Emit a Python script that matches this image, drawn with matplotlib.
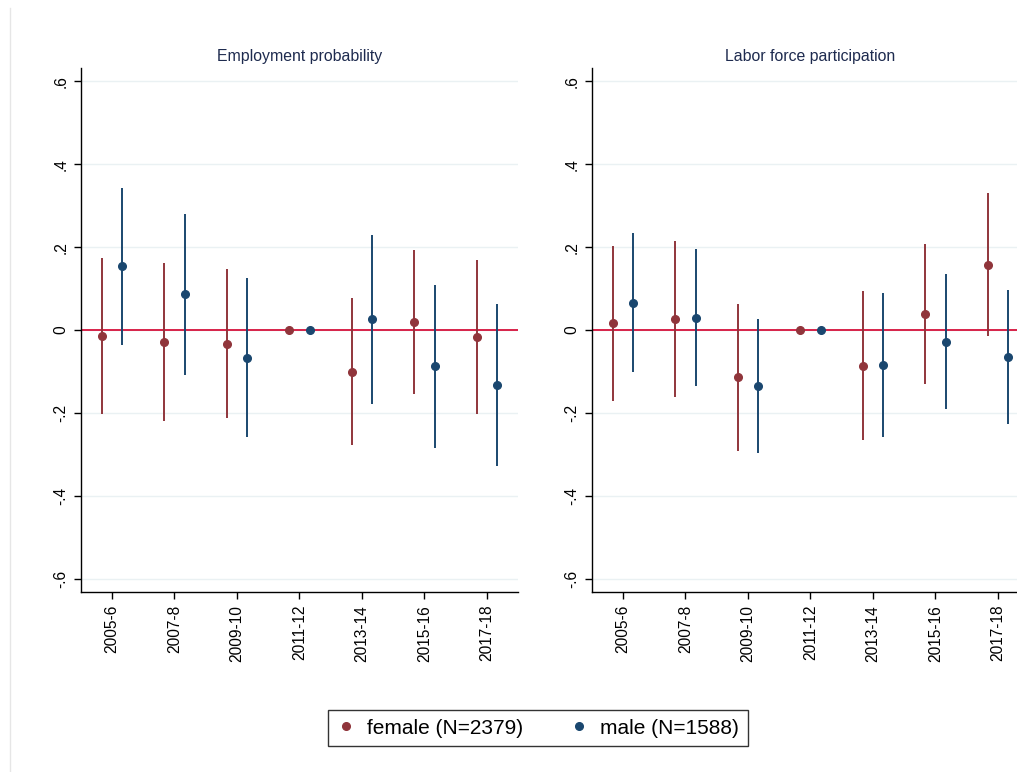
import matplotlib
matplotlib.use("Agg")
import matplotlib.pyplot as plt
from matplotlib.lines import Line2D
import numpy as np

plt.rcParams['font.family'] = ['Liberation Sans', 'DejaVu Sans']

periods = ["2005-6", "2007-8", "2009-10", "2011-12", "2013-14", "2015-16", "2017-18"]

# Employment probability
emp_f = [-0.014, -0.028, -0.033, 0.0, -0.101, 0.020, -0.017]
emp_f_lo = [-0.202, -0.219, -0.211, 0.0, -0.278, -0.154, -0.202]
emp_f_hi = [0.173, 0.163, 0.147, 0.0, 0.077, 0.194, 0.170]
emp_m = [0.154, 0.086, -0.066, 0.0, 0.027, -0.086, -0.133]
emp_m_lo = [-0.036, -0.107, -0.257, 0.0, -0.178, -0.283, -0.327]
emp_m_hi = [0.343, 0.281, 0.125, 0.0, 0.230, 0.110, 0.062]

# Labor force participation
lfp_f = [0.017, 0.027, -0.114, 0.0, -0.086, 0.038, 0.158]
lfp_f_lo = [-0.170, -0.162, -0.291, 0.0, -0.265, -0.131, -0.014]
lfp_f_hi = [0.204, 0.216, 0.064, 0.0, 0.095, 0.207, 0.330]
lfp_m = [0.066, 0.030, -0.134, 0.0, -0.084, -0.028, -0.064]
lfp_m_lo = [-0.102, -0.135, -0.295, 0.0, -0.257, -0.191, -0.226]
lfp_m_hi = [0.234, 0.195, 0.027, 0.0, 0.090, 0.135, 0.098]

titles = ["Employment probability", "Labor force participation"]
yticks = [-0.6, -0.4, -0.2, 0.0, 0.2, 0.4, 0.6]
ytick_labels = ["-.6", "-.4", "-.2", "0", ".2", ".4", ".6"]

col_f = "#90353b"
col_m = "#1a476f"
col_zero = "#d6123c"
col_grid = "#eaf1f3"
col_title = "#1e2b4f"

fig = plt.figure(figsize=(10.17, 7.72), dpi=100)

# faint outer border line on the left
fig.add_artist(Line2D([10/1017, 10/1017], [0, 1 - 8/772], transform=fig.transFigure,
                      color="#e6e6e6", lw=1.0))

positions = [[80.7/1017, 1 - 592.3/772, 437.5/1017, (592.3-68)/772],
             [591.7/1017, 1 - 592.3/772, 437.5/1017, (592.3-68)/772]]

data = [
    (emp_f, emp_f_lo, emp_f_hi, emp_m, emp_m_lo, emp_m_hi),
    (lfp_f, lfp_f_lo, lfp_f_hi, lfp_m, lfp_m_lo, lfp_m_hi),
]

x = np.arange(1, len(periods) + 1)
off = 0.165

for pos, title, (f, flo, fhi, m, mlo, mhi) in zip(positions, titles, data):
    ax = fig.add_axes(pos)
    ax.set_xlim(0.5, 7.5)
    ax.set_ylim(-0.632, 0.632)
    for yt in yticks:
        ax.axhline(yt, color=col_grid, lw=1.0, zorder=0)
    ax.axhline(0, color=col_zero, lw=1.3, zorder=1)
    ax.vlines(x - off, flo, fhi, color=col_f, lw=1.4, zorder=2)
    ax.vlines(x + off, mlo, mhi, color=col_m, lw=1.4, zorder=2)
    ax.plot(x - off, f, 'o', color=col_f, ms=5.5, zorder=3, clip_on=False)
    ax.plot(x + off, m, 'o', color=col_m, ms=5.5, zorder=3, clip_on=False)
    ax.set_xticks(x)
    ax.set_xticklabels(periods, rotation=90, fontsize=11.2)
    ax.set_yticks(yticks)
    ax.set_yticklabels(ytick_labels, rotation=90, fontsize=11.2, va='center')
    for s in ["top", "right"]:
        ax.spines[s].set_visible(False)
    for s in ["left", "bottom"]:
        ax.spines[s].set_color("black")
        ax.spines[s].set_linewidth(1.0)
    ax.tick_params(axis='both', direction='out', length=5, width=1.0, color='black')
    ax.tick_params(axis='x', pad=4)
    ax.tick_params(axis='y', pad=4)
    ax.set_title(title, fontsize=11.4, color=col_title, pad=5)

handles = [Line2D([], [], marker='o', ls='none', color=col_f, ms=5.5),
           Line2D([], [], marker='o', ls='none', color=col_m, ms=5.5)]
leg = fig.legend(handles, ["female (N=2379)", "male (N=1588)"], loc='center',
                 bbox_to_anchor=(537.5/1017, 1 - 728/772), ncol=2, fontsize=15,
                 frameon=True, fancybox=False, edgecolor='black', handletextpad=0.5,
                 columnspacing=2.2, handlelength=1.0, borderpad=0.4)
leg.get_frame().set_linewidth(1.0)

fig.savefig("out.png", dpi=100)
